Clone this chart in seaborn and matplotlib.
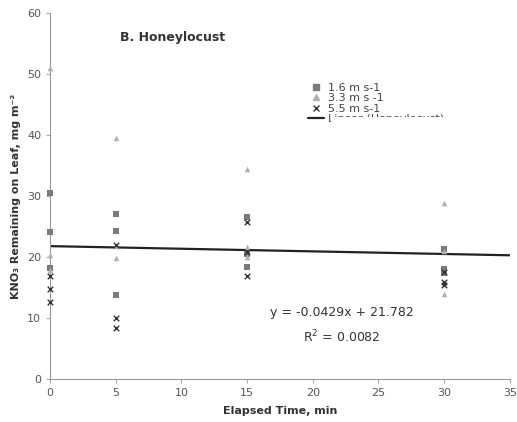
import numpy as np
import pandas as pd
import matplotlib
matplotlib.use("Agg")
import matplotlib.pyplot as plt
import seaborn as sns
from matplotlib.lines import Line2D
from matplotlib.patches import Rectangle

# Elapsed sampling times (min)
times = [0, 5, 15, 30]

# KNO3 remaining on leaf (mg m-2), three replicate leaves per time and wind speed
speed_16 = [[30.5, 24.1, 18.2], [27.0, 24.3, 13.8], [26.6, 20.5, 18.4], [21.3, 18.0, 17.3]]
speed_33 = [[51.0, 20.3, 17.8], [39.5, 19.8, 21.8], [34.4, 21.6, 20.0], [28.8, 14.0, 21.0]]
speed_55 = [[16.9, 14.8, 12.6], [22.0, 10.0, 8.4], [25.8, 16.9, 20.8], [15.9, 15.4, 17.5]]

series_labels = ["1.6 m s-1", "3.3 m s -1", "5.5 m s-1"]

# Linear fit reported for the pooled data
slope = -0.0429
intercept = 21.782
r_squared = 0.0082

rows = []
for label, series in zip(series_labels, [speed_16, speed_33, speed_55]):
    for t, reps in zip(times, series):
        for v in reps:
            rows.append({"time": t, "kno3": v, "speed": label})
df = pd.DataFrame(rows)

sns.set_style("white")
plt.rcParams["font.family"] = ["DejaVu Sans"]

fig = plt.figure(figsize=(5.17, 4.22), dpi=100)
ax = fig.add_axes([0.097, 0.102, 0.889, 0.867])

colors = ["#7a7a7a", "#b0b0b0", "#333333"]
marks = ["s", "^", "x"]
for label, col, mk in zip(series_labels, colors, marks):
    sub = df[df["speed"] == label]
    lw = 1.0 if mk == "x" else 0
    sns.scatterplot(data=sub, x="time", y="kno3", color=col, marker=mk,
                    s=16, linewidth=lw, ax=ax, legend=False, zorder=3,
                    clip_on=False)

xfit = np.array([0, 35])
ax.plot(xfit, slope * xfit + intercept, color="#222222", lw=1.6, zorder=2)

handles = [
    Line2D([], [], ls="none", marker="s", ms=4, color=colors[0]),
    Line2D([], [], ls="none", marker="^", ms=4, color=colors[1]),
    Line2D([], [], ls="none", marker="x", ms=4, mew=1, color=colors[2]),
    Line2D([], [], color="#222222", lw=1.6),
]
leg = ax.legend(handles, series_labels + ["Linear (Honeylocust)"],
                loc="upper left", bbox_to_anchor=(0.55, 0.825), frameon=False,
                fontsize=8, handlelength=1.4, handletextpad=0.4,
                labelspacing=0.05, borderpad=0)
for t in leg.get_texts():
    t.set_color("#444444")
# the legend box is cut off just below the trend-line entry
ax.add_patch(Rectangle((0.61, 0.66), 0.28, 0.055, transform=ax.transAxes,
                       facecolor="white", edgecolor="none", zorder=10))

ax.set_xlim(0, 35)
ax.set_ylim(0, 60)
ax.set_xticks(range(0, 36, 5))
ax.set_yticks(range(0, 61, 10))
ax.tick_params(axis="both", labelsize=8, colors="#555555", length=3,
               direction="out", bottom=True, left=True)
ax.tick_params(axis="both", color="#aaaaaa")
for side in ["top", "right"]:
    ax.spines[side].set_visible(False)
for side in ["left", "bottom"]:
    ax.spines[side].set_linestyle((0, (1, 1)))
    ax.spines[side].set_color("#999999")
    ax.spines[side].set_linewidth(0.8)

ax.set_xlabel("Elapsed Time, min", fontsize=8, fontweight="bold", color="#333333", labelpad=6)
ax.set_ylabel("KNO₃ Remaining on Leaf, mg m⁻²", fontsize=8, fontweight="bold",
              color="#333333", labelpad=4)

ax.text(5.3, 56, "B. Honeylocust", fontsize=9, fontweight="bold", color="#333333",
        ha="left", va="center")
ax.text(22.2, 10.9, f"y = {slope}x + {intercept}", fontsize=9, color="#333333",
        ha="center", va="center")
ax.text(22.2, 6.9, f"R$^2$ = {r_squared}", fontsize=9, color="#333333",
        ha="center", va="center")

fig.savefig("out.png", dpi=100, facecolor="white")
